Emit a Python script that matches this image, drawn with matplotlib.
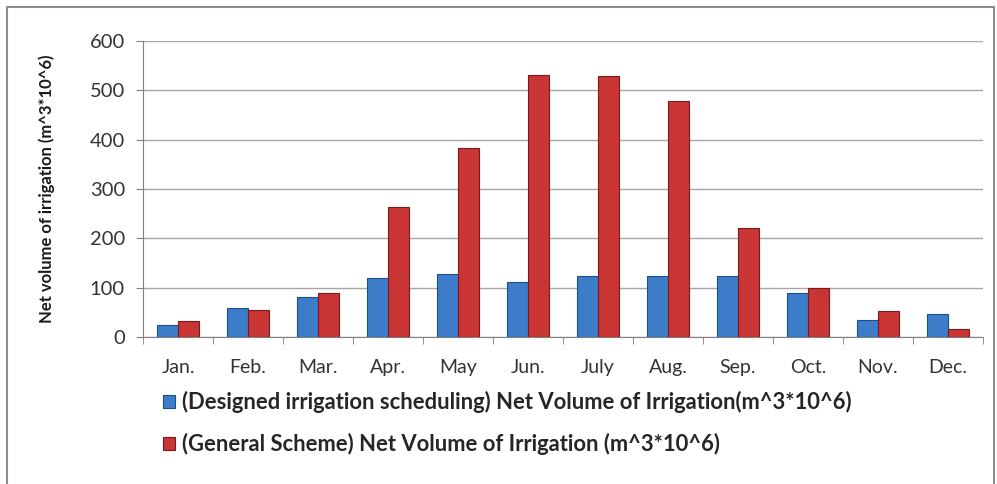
import matplotlib.pyplot as plt
import numpy as np
from matplotlib.patches import Rectangle

months = ['Jan.', 'Feb.', 'Mar.', 'Apr.', 'May', 'Jun.', 'July', 'Aug.', 'Sep.', 'Oct.', 'Nov.', 'Dec.']
designed = [24, 59, 81, 120, 128, 112, 124, 123, 123, 89, 35, 47]
general = [32, 55, 89, 263, 383, 531, 529, 479, 222, 99, 53, 16]
yticks = [0, 100, 200, 300, 400, 500, 600]

label_designed = '(Designed irrigation scheduling) Net Volume of Irrigation(m^3*10^6)'
label_general = '(General Scheme) Net Volume of Irrigation (m^3*10^6)'

plt.rcParams['font.family'] = ['Lato', 'DejaVu Sans']

fig = plt.figure(figsize=(9.97, 4.84), dpi=100)
ax = fig.add_axes([0.1434, 0.3037, 0.8426, 0.6113])

x = np.arange(len(months))
w = 0.3
b1 = ax.bar(x - w / 2, designed, w, color='#3d7cc9', edgecolor='#1f4f8a', linewidth=0.8,
            label=label_designed, zorder=3)
b2 = ax.bar(x + w / 2, general, w, color='#c93434', edgecolor='#7a1a1a', linewidth=0.8,
            label=label_general, zorder=3)

ax.set_xlim(-0.5, len(months) - 0.5)
ax.set_ylim(0, 600)
ax.set_yticks(yticks)
ax.yaxis.grid(True, color='#a6a6a6', linewidth=1, zorder=0)
ax.set_xticks(x)
ax.set_xticklabels(months)
ax.set_xticks(np.arange(-0.5, len(months), 1), minor=True)
ax.tick_params(axis='x', which='major', length=0, pad=16, labelsize=14, colors='#333333')
ax.tick_params(axis='x', which='minor', length=5, color='#808080')
ax.tick_params(axis='y', length=5, color='#808080', labelsize=14.5, labelcolor='#333333', pad=8)
for s in ['top', 'right']:
    ax.spines[s].set_visible(False)
ax.spines['left'].set_color('#808080')
ax.spines['bottom'].set_color('#808080')

fig.text(0.047, 0.61, 'Net volume of irrigation (m^3*10^6)', rotation=90, ha='center', va='center',
         fontsize=12, fontweight='bold', color='#1a1a1a')

leg = fig.legend(handles=[b1, b2], loc='upper left', bbox_to_anchor=(0.163, 0.192),
                 frameon=False, ncol=1, prop={'weight': 'bold', 'size': 15.8},
                 handlelength=0.55, handleheight=0.55, handletextpad=0.35, labelspacing=0.9,
                 borderpad=0, borderaxespad=0)
for t in leg.get_texts():
    t.set_color('#262626')

# outer frame like the original image
fig.patches.append(Rectangle((0.007, -0.01), 0.99, 0.995, transform=fig.transFigure,
                             fill=False, edgecolor='#8c8c8c', linewidth=1.5))

fig.savefig('out.png', dpi=100)
